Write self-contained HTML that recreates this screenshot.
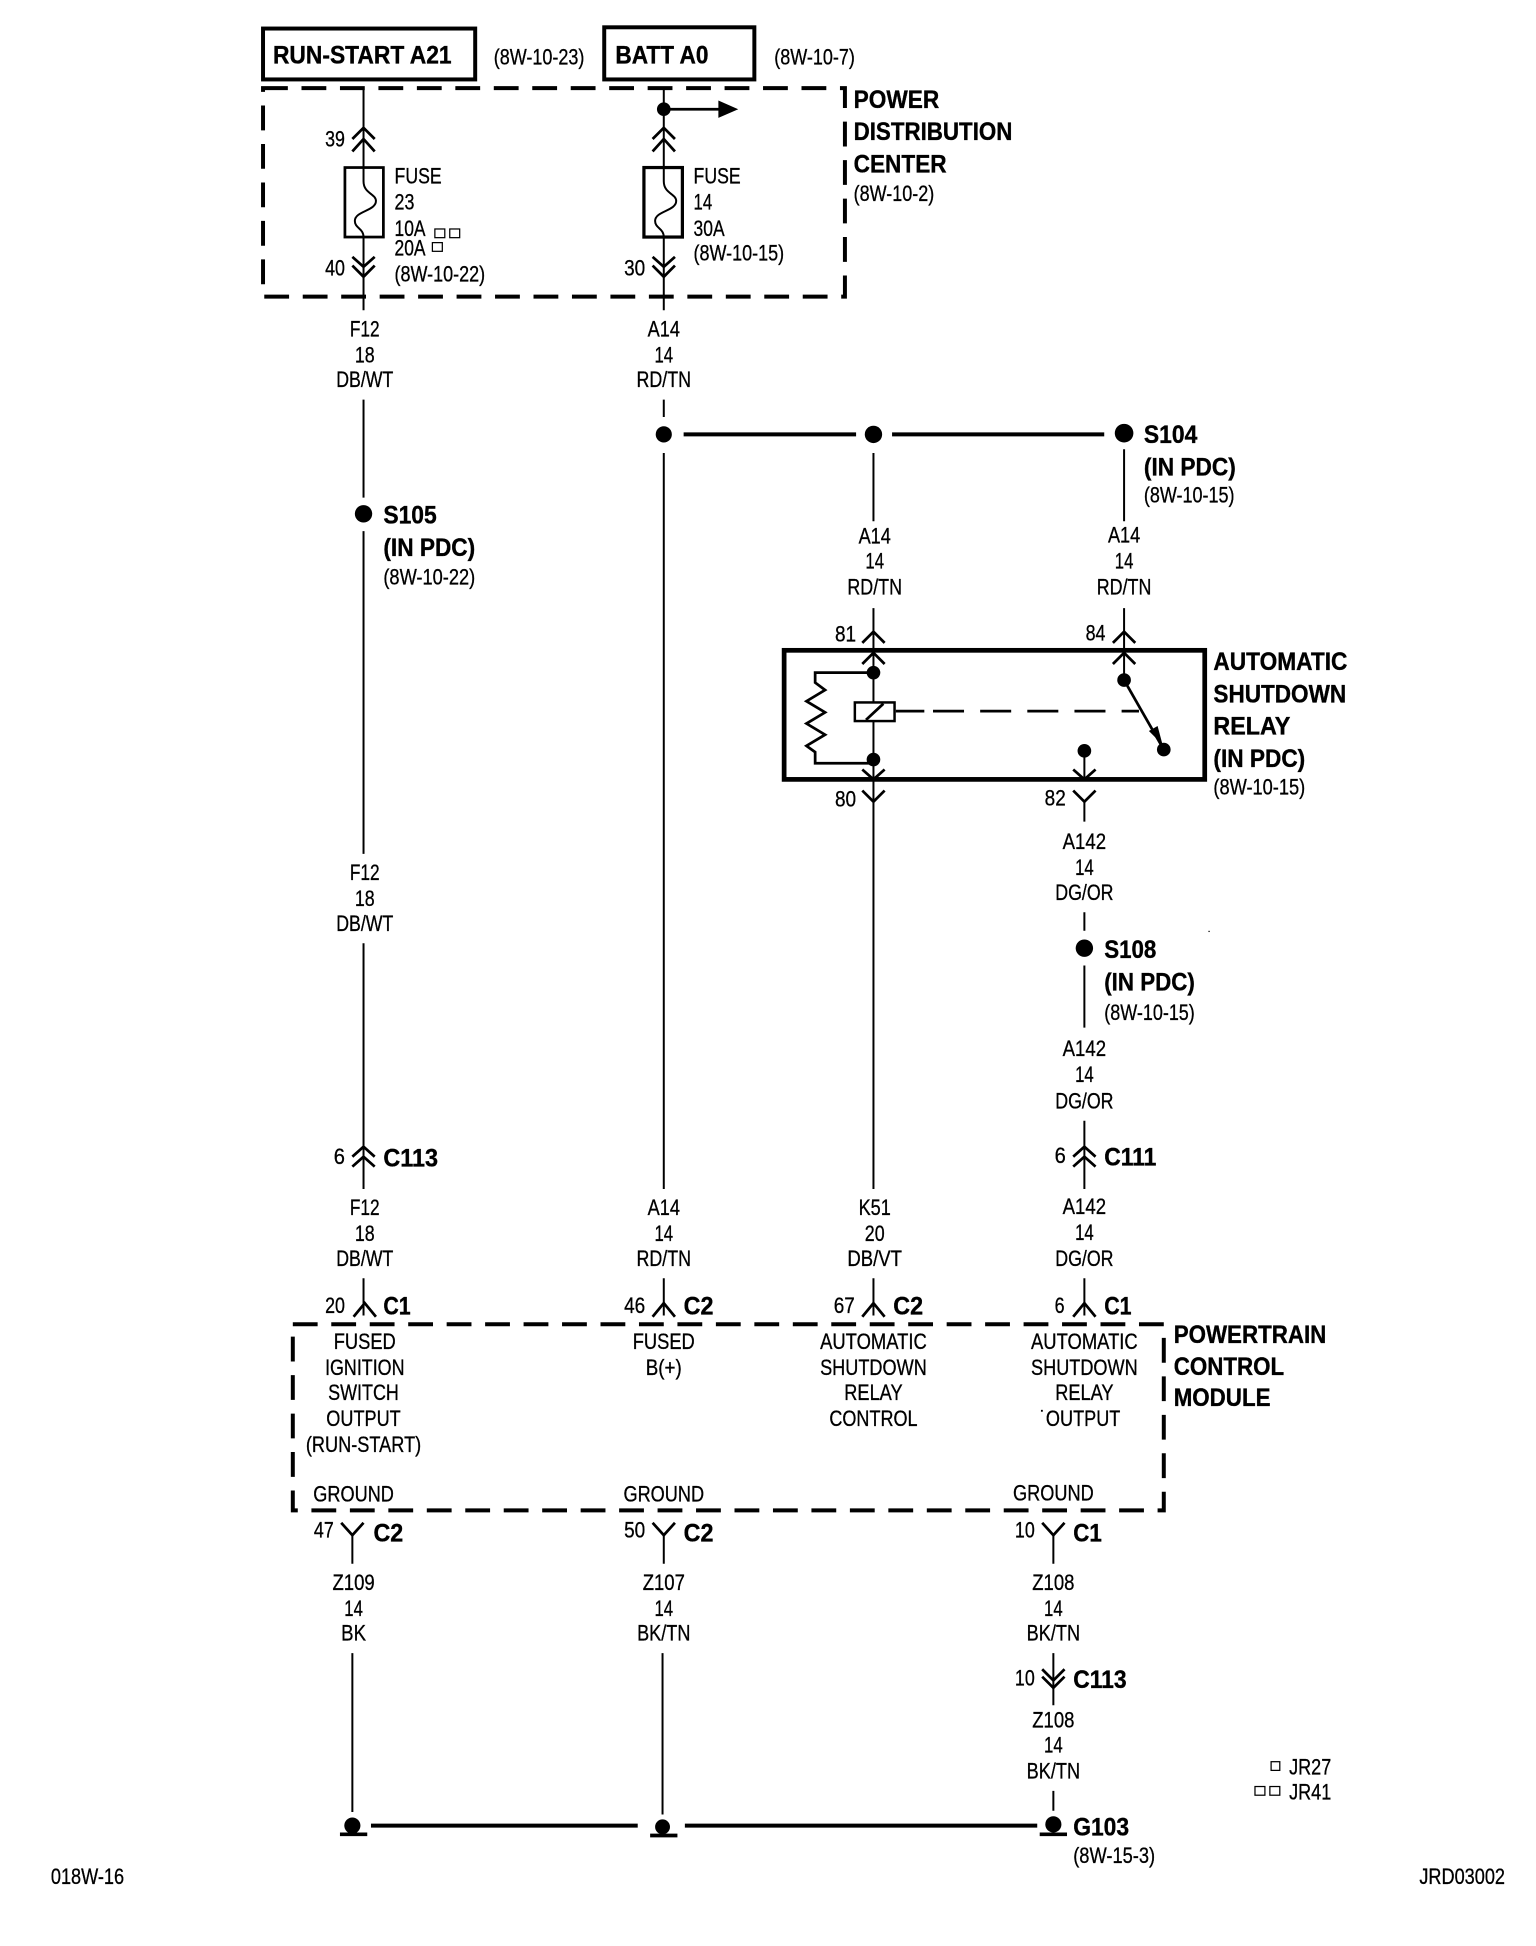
<!DOCTYPE html>
<html>
<head>
<meta charset="utf-8">
<title>Wiring diagram</title>
<style>
html,body{margin:0;padding:0;background:#fff;width:1536px;height:1946px;overflow:hidden}
svg{display:block}
text{font-family:"Liberation Sans",sans-serif;fill:#000}
.r{font-size:18px;stroke:#000;stroke-width:.25}
.b{font-size:20.5px;font-weight:bold;stroke:#000;stroke-width:.3}
.m{text-anchor:middle}
.w{stroke:#000;stroke-width:1.6;fill:none}
.c{stroke:#000;stroke-width:2.2;fill:none}
.t{stroke:#000;stroke-width:3.2;fill:none}
</style>
</head>
<body>
<svg xmlns="http://www.w3.org/2000/svg" width="1536" height="1946" viewBox="0 0 1238 1568" preserveAspectRatio="none">
<rect width="1238" height="1568" fill="#fff"/>

<!-- Top boxes -->
<rect x="212" y="23" width="171" height="41" class="t"/>
<rect x="487" y="22" width="121" height="42" class="t"/>
<text class="b" x="220" y="51" textLength="144" lengthAdjust="spacingAndGlyphs">RUN-START A21</text>
<text class="b" x="496" y="51" textLength="75" lengthAdjust="spacingAndGlyphs">BATT A0</text>
<text class="r" x="398" y="52" textLength="73" lengthAdjust="spacingAndGlyphs">(8W-10-23)</text>
<text class="r" x="624" y="52" textLength="65" lengthAdjust="spacingAndGlyphs">(8W-10-7)</text>

<!-- PDC -->
<rect x="212" y="71" width="469" height="168" class="t" stroke-dasharray="20 11"/>
<text class="b" x="688" y="87" textLength="69" lengthAdjust="spacingAndGlyphs">POWER</text>
<text class="b" x="688" y="113" textLength="128" lengthAdjust="spacingAndGlyphs">DISTRIBUTION</text>
<text class="b" x="688" y="139" textLength="75" lengthAdjust="spacingAndGlyphs">CENTER</text>
<text class="r" x="688" y="162" textLength="65" lengthAdjust="spacingAndGlyphs">(8W-10-2)</text>

<!-- Wire F12 -->
<path class="w" d="M293 71V135M293 191V250M293 322V401M293 428V688M293 760V958M293 1030V1060"/>
<path class="c" d="M284 112L293 103L302 112M284 122L293 112L302 122"/>
<path class="c" d="M284 207L293 215L302 207M284 214L293 223L302 214"/>
<rect x="278" y="135" width="31" height="56" fill="none" stroke="#000" stroke-width="2.2"/>
<path class="w" d="M293 135V146C293 156 303 156 303 162C303 170 286 170 286 178C286 184 293 184 293 191"/>
<text class="r" x="262" y="118" textLength="16" lengthAdjust="spacingAndGlyphs">39</text>
<text class="r" x="262" y="222" textLength="16" lengthAdjust="spacingAndGlyphs">40</text>
<text class="r" x="318" y="148" textLength="38" lengthAdjust="spacingAndGlyphs">FUSE</text>
<text class="r" x="318" y="169" textLength="16" lengthAdjust="spacingAndGlyphs">23</text>
<text class="r" x="318" y="190" textLength="25" lengthAdjust="spacingAndGlyphs">10A</text>
<text class="r" x="318" y="206" textLength="25" lengthAdjust="spacingAndGlyphs">20A</text>
<text class="r" x="318" y="227" textLength="73" lengthAdjust="spacingAndGlyphs">(8W-10-22)</text>
<g fill="none" stroke="#000" stroke-width="1">
<rect x="350.500" y="184.500" width="8" height="7"/>
<rect x="362.500" y="184.500" width="8" height="7"/>
<rect x="348.500" y="195.500" width="8" height="7"/>
</g>

<!-- Wire A14 -->
<path class="w" d="M535 71V135M535 191V250M535 322V336M535 365V958M535 1030V1060"/>
<circle cx="535" cy="88" r="5.500"/>
<path d="M535 88H582" stroke="#000" stroke-width="2.200"/>
<path d="M579 81L595 88L579 95Z"/>
<path class="c" d="M526 112L535 103L544 112M526 122L535 112L544 122"/>
<path class="c" d="M526 207L535 215L544 207M526 214L535 223L544 214"/>
<rect x="519" y="135" width="31" height="56" fill="none" stroke="#000" stroke-width="2.600"/>
<path class="w" d="M535 135V146C535 156 545 156 545 162C545 170 528 170 528 178C528 184 535 184 535 191"/>
<text class="r" x="503" y="222" textLength="17" lengthAdjust="spacingAndGlyphs">30</text>
<text class="r" x="559" y="148" textLength="38" lengthAdjust="spacingAndGlyphs">FUSE</text>
<text class="r" x="559" y="169" textLength="15" lengthAdjust="spacingAndGlyphs">14</text>
<text class="r" x="559" y="190" textLength="25" lengthAdjust="spacingAndGlyphs">30A</text>
<text class="r" x="559" y="210" textLength="73" lengthAdjust="spacingAndGlyphs">(8W-10-15)</text>

<!-- Wire labels -->
<text class="r m" x="294" y="271" textLength="24" lengthAdjust="spacingAndGlyphs">F12</text>
<text class="r m" x="294" y="292" textLength="16" lengthAdjust="spacingAndGlyphs">18</text>
<text class="r m" x="294" y="312" textLength="46" lengthAdjust="spacingAndGlyphs">DB/WT</text>
<text class="r m" x="535" y="271" textLength="26" lengthAdjust="spacingAndGlyphs">A14</text>
<text class="r m" x="535" y="292" textLength="15" lengthAdjust="spacingAndGlyphs">14</text>
<text class="r m" x="535" y="312" textLength="44" lengthAdjust="spacingAndGlyphs">RD/TN</text>
<text class="r m" x="294" y="709" textLength="24" lengthAdjust="spacingAndGlyphs">F12</text>
<text class="r m" x="294" y="730" textLength="16" lengthAdjust="spacingAndGlyphs">18</text>
<text class="r m" x="294" y="750" textLength="46" lengthAdjust="spacingAndGlyphs">DB/WT</text>

<!-- S104 bus -->
<circle cx="535" cy="350" r="6.500"/>
<circle cx="704" cy="350" r="7"/>
<circle cx="906" cy="349" r="7.500"/>
<path class="t" d="M551 350H690M719 350H890"/>
<text class="b" x="922" y="357" textLength="43" lengthAdjust="spacingAndGlyphs">S104</text>
<text class="b" x="922" y="383" textLength="74" lengthAdjust="spacingAndGlyphs">(IN PDC)</text>
<text class="r" x="922" y="405" textLength="73" lengthAdjust="spacingAndGlyphs">(8W-10-15)</text>

<!-- S105 -->
<circle cx="293" cy="414" r="7"/>
<text class="b" x="309" y="422" textLength="43" lengthAdjust="spacingAndGlyphs">S105</text>
<text class="b" x="309" y="448" textLength="74" lengthAdjust="spacingAndGlyphs">(IN PDC)</text>
<text class="r" x="309" y="471" textLength="74" lengthAdjust="spacingAndGlyphs">(8W-10-22)</text>

<!-- Relay feed wires -->
<path class="w" d="M704 365V420M704 490V566M704 581V646M704 646V662M906 362V420M906 490V548M704 646V958M704 1030V1060"/>
<text class="r m" x="705" y="438" textLength="26" lengthAdjust="spacingAndGlyphs">A14</text>
<text class="r m" x="705" y="458" textLength="15" lengthAdjust="spacingAndGlyphs">14</text>
<text class="r m" x="705" y="479" textLength="44" lengthAdjust="spacingAndGlyphs">RD/TN</text>
<text class="r m" x="906" y="437" textLength="26" lengthAdjust="spacingAndGlyphs">A14</text>
<text class="r m" x="906" y="458" textLength="15" lengthAdjust="spacingAndGlyphs">14</text>
<text class="r m" x="906" y="479" textLength="44" lengthAdjust="spacingAndGlyphs">RD/TN</text>

<!-- Relay -->
<rect x="632" y="524" width="339" height="104" fill="none" stroke="#000" stroke-width="3.800"/>
<path class="c" d="M695 518L704 509L713 518M695 535L704 526L713 535"/>
<path class="c" d="M897 518L906 509L915 518M897 535L906 526L915 535"/>
<path class="c" d="M695 620L704 628L713 620M695 637L704 646L713 637"/>
<path class="c" d="M865 620L874 628L883 620M865 637L874 646L883 637"/>
<text class="r" x="673" y="517" textLength="17" lengthAdjust="spacingAndGlyphs">81</text>
<text class="r" x="875" y="516" textLength="16" lengthAdjust="spacingAndGlyphs">84</text>
<text class="r" x="673" y="650" textLength="17" lengthAdjust="spacingAndGlyphs">80</text>
<text class="r" x="842" y="649" textLength="17" lengthAdjust="spacingAndGlyphs">82</text>
<circle cx="704" cy="542" r="5.500"/>
<circle cx="704" cy="612" r="5.500"/>
<circle cx="906" cy="548" r="5.500"/>
<circle cx="938" cy="604" r="5.500"/>
<circle cx="874" cy="605" r="5.500"/>
<path class="c" d="M704 542H657V550L665 556L650 565L665 574L650 583L665 592L650 601L657 606V615H704" stroke-width="1.800"/>
<rect x="689" y="566" width="32" height="15" fill="#fff" stroke="#000" stroke-width="2"/>
<path class="c" d="M698 580L712 567"/>
<path class="c" d="M722 573H745" stroke-width="2"/>
<path class="c" d="M752 573H918" stroke-width="2" stroke-dasharray="25 13"/>
<path class="c" d="M906 548L938 604" stroke-width="2.400"/>
<path d="M926 589L933 585L937 600Z"/>
<path class="w" d="M874 605V628"/>
<text class="b" x="978" y="540" textLength="108" lengthAdjust="spacingAndGlyphs">AUTOMATIC</text>
<text class="b" x="978" y="566" textLength="107" lengthAdjust="spacingAndGlyphs">SHUTDOWN</text>
<text class="b" x="978" y="592" textLength="62" lengthAdjust="spacingAndGlyphs">RELAY</text>
<text class="b" x="978" y="618" textLength="74" lengthAdjust="spacingAndGlyphs">(IN PDC)</text>
<text class="r" x="978" y="640" textLength="74" lengthAdjust="spacingAndGlyphs">(8W-10-15)</text>

<!-- A142 -->
<path class="w" d="M874 646V662M874 735V750M874 778V828M874 903V958M874 1030V1060"/>
<text class="r m" x="874" y="684" textLength="35" lengthAdjust="spacingAndGlyphs">A142</text>
<text class="r m" x="874" y="705" textLength="15" lengthAdjust="spacingAndGlyphs">14</text>
<text class="r m" x="874" y="725" textLength="47" lengthAdjust="spacingAndGlyphs">DG/OR</text>
<circle cx="874" cy="764" r="7"/>
<text class="b" x="890" y="772" textLength="42" lengthAdjust="spacingAndGlyphs">S108</text>
<text class="b" x="890" y="798" textLength="73" lengthAdjust="spacingAndGlyphs">(IN PDC)</text>
<text class="r" x="890" y="822" textLength="73" lengthAdjust="spacingAndGlyphs">(8W-10-15)</text>
<text class="r m" x="874" y="851" textLength="35" lengthAdjust="spacingAndGlyphs">A142</text>
<text class="r m" x="874" y="872" textLength="15" lengthAdjust="spacingAndGlyphs">14</text>
<text class="r m" x="874" y="893" textLength="47" lengthAdjust="spacingAndGlyphs">DG/OR</text>
<rect x="974" y="750" width="1" height="1"/>

<!-- C113 / C111 -->
<path class="c" d="M284 932L293 924L302 932M284 940L293 932L302 940"/>
<path class="c" d="M865 932L874 924L883 932M865 940L874 932L883 940"/>
<text class="r" x="269" y="938" textLength="9" lengthAdjust="spacingAndGlyphs">6</text>
<text class="r" x="850" y="937" textLength="9" lengthAdjust="spacingAndGlyphs">6</text>
<text class="b" x="309" y="940" textLength="44" lengthAdjust="spacingAndGlyphs">C113</text>
<text class="b" x="890" y="939" textLength="42" lengthAdjust="spacingAndGlyphs">C111</text>

<!-- Labels over PCM -->
<text class="r m" x="294" y="979" textLength="24" lengthAdjust="spacingAndGlyphs">F12</text>
<text class="r m" x="294" y="1000" textLength="16" lengthAdjust="spacingAndGlyphs">18</text>
<text class="r m" x="294" y="1020" textLength="46" lengthAdjust="spacingAndGlyphs">DB/WT</text>
<text class="r m" x="535" y="979" textLength="26" lengthAdjust="spacingAndGlyphs">A14</text>
<text class="r m" x="535" y="1000" textLength="15" lengthAdjust="spacingAndGlyphs">14</text>
<text class="r m" x="535" y="1020" textLength="44" lengthAdjust="spacingAndGlyphs">RD/TN</text>
<text class="r m" x="705" y="979" textLength="26" lengthAdjust="spacingAndGlyphs">K51</text>
<text class="r m" x="705" y="1000" textLength="16" lengthAdjust="spacingAndGlyphs">20</text>
<text class="r m" x="705" y="1020" textLength="44" lengthAdjust="spacingAndGlyphs">DB/VT</text>
<text class="r m" x="874" y="978" textLength="35" lengthAdjust="spacingAndGlyphs">A142</text>
<text class="r m" x="874" y="999" textLength="15" lengthAdjust="spacingAndGlyphs">14</text>
<text class="r m" x="874" y="1020" textLength="47" lengthAdjust="spacingAndGlyphs">DG/OR</text>

<!-- PCM connectors -->
<path class="c" d="M285 1061L294 1050L303 1061M526 1061L535 1050L544 1061M695 1061L704 1050L713 1061M865 1061L874 1050L883 1061"/>
<text class="r" x="262" y="1058" textLength="16" lengthAdjust="spacingAndGlyphs">20</text>
<text class="r" x="503" y="1058" textLength="17" lengthAdjust="spacingAndGlyphs">46</text>
<text class="r" x="672" y="1058" textLength="17" lengthAdjust="spacingAndGlyphs">67</text>
<text class="r" x="850" y="1058" textLength="8" lengthAdjust="spacingAndGlyphs">6</text>
<text class="b" x="309" y="1059" textLength="22" lengthAdjust="spacingAndGlyphs">C1</text>
<text class="b" x="551" y="1059" textLength="24" lengthAdjust="spacingAndGlyphs">C2</text>
<text class="b" x="720" y="1059" textLength="24" lengthAdjust="spacingAndGlyphs">C2</text>
<text class="b" x="890" y="1059" textLength="22" lengthAdjust="spacingAndGlyphs">C1</text>

<!-- PCM -->
<rect x="236" y="1067" width="702" height="150" class="t" stroke-dasharray="20 11"/>
<text class="b" x="946" y="1082" textLength="123" lengthAdjust="spacingAndGlyphs">POWERTRAIN</text>
<text class="b" x="946" y="1108" textLength="89" lengthAdjust="spacingAndGlyphs">CONTROL</text>
<text class="b" x="946" y="1133" textLength="78" lengthAdjust="spacingAndGlyphs">MODULE</text>

<text class="r m" x="294" y="1087" textLength="50" lengthAdjust="spacingAndGlyphs">FUSED</text>
<text class="r m" x="294" y="1108" textLength="64" lengthAdjust="spacingAndGlyphs">IGNITION</text>
<text class="r m" x="293" y="1128" textLength="57" lengthAdjust="spacingAndGlyphs">SWITCH</text>
<text class="r m" x="293" y="1149" textLength="60" lengthAdjust="spacingAndGlyphs">OUTPUT</text>
<text class="r m" x="293" y="1170" textLength="93" lengthAdjust="spacingAndGlyphs">(RUN-START)</text>
<text class="r m" x="535" y="1087" textLength="50" lengthAdjust="spacingAndGlyphs">FUSED</text>
<text class="r m" x="535" y="1108" textLength="29" lengthAdjust="spacingAndGlyphs">B(+)</text>
<text class="r m" x="704" y="1087" textLength="86" lengthAdjust="spacingAndGlyphs">AUTOMATIC</text>
<text class="r m" x="704" y="1108" textLength="86" lengthAdjust="spacingAndGlyphs">SHUTDOWN</text>
<text class="r m" x="704" y="1128" textLength="47" lengthAdjust="spacingAndGlyphs">RELAY</text>
<text class="r m" x="704" y="1149" textLength="71" lengthAdjust="spacingAndGlyphs">CONTROL</text>
<text class="r m" x="874" y="1087" textLength="86" lengthAdjust="spacingAndGlyphs">AUTOMATIC</text>
<text class="r m" x="874" y="1108" textLength="86" lengthAdjust="spacingAndGlyphs">SHUTDOWN</text>
<text class="r m" x="874" y="1128" textLength="47" lengthAdjust="spacingAndGlyphs">RELAY</text>
<text class="r m" x="873" y="1149" textLength="60" lengthAdjust="spacingAndGlyphs">OUTPUT</text>
<rect x="839" y="1136" width="1.500" height="1.500"/>
<text class="r m" x="285" y="1210" textLength="65" lengthAdjust="spacingAndGlyphs">GROUND</text>
<text class="r m" x="535" y="1210" textLength="65" lengthAdjust="spacingAndGlyphs">GROUND</text>
<text class="r m" x="849" y="1209" textLength="65" lengthAdjust="spacingAndGlyphs">GROUND</text>

<!-- Ground connectors -->
<path class="c" d="M275 1227L284 1237L293 1227M526 1227L535 1237L544 1227M840 1227L849 1237L858 1227"/>
<path class="w" d="M284 1237V1260M284 1332V1460M535 1237V1260M534 1332V1462M849 1237V1260M849 1332V1374M849 1443V1459"/>
<text class="r" x="253" y="1239" textLength="16" lengthAdjust="spacingAndGlyphs">47</text>
<text class="r" x="503" y="1239" textLength="17" lengthAdjust="spacingAndGlyphs">50</text>
<text class="r" x="818" y="1239" textLength="16" lengthAdjust="spacingAndGlyphs">10</text>
<text class="b" x="301" y="1242" textLength="24" lengthAdjust="spacingAndGlyphs">C2</text>
<text class="b" x="551" y="1242" textLength="24" lengthAdjust="spacingAndGlyphs">C2</text>
<text class="b" x="865" y="1242" textLength="23" lengthAdjust="spacingAndGlyphs">C1</text>

<text class="r m" x="285" y="1281" textLength="34" lengthAdjust="spacingAndGlyphs">Z109</text>
<text class="r m" x="285" y="1302" textLength="15" lengthAdjust="spacingAndGlyphs">14</text>
<text class="r m" x="285" y="1322" textLength="20" lengthAdjust="spacingAndGlyphs">BK</text>
<text class="r m" x="535" y="1281" textLength="34" lengthAdjust="spacingAndGlyphs">Z107</text>
<text class="r m" x="535" y="1302" textLength="15" lengthAdjust="spacingAndGlyphs">14</text>
<text class="r m" x="535" y="1322" textLength="43" lengthAdjust="spacingAndGlyphs">BK/TN</text>
<text class="r m" x="849" y="1281" textLength="34" lengthAdjust="spacingAndGlyphs">Z108</text>
<text class="r m" x="849" y="1302" textLength="15" lengthAdjust="spacingAndGlyphs">14</text>
<text class="r m" x="849" y="1322" textLength="43" lengthAdjust="spacingAndGlyphs">BK/TN</text>

<!-- C113 lower -->
<path class="c" d="M840 1345L849 1354L858 1345M840 1351L849 1360L858 1351"/>
<text class="r" x="818" y="1358" textLength="16" lengthAdjust="spacingAndGlyphs">10</text>
<text class="b" x="865" y="1360" textLength="43" lengthAdjust="spacingAndGlyphs">C113</text>
<text class="r m" x="849" y="1392" textLength="34" lengthAdjust="spacingAndGlyphs">Z108</text>
<text class="r m" x="849" y="1412" textLength="15" lengthAdjust="spacingAndGlyphs">14</text>
<text class="r m" x="849" y="1433" textLength="43" lengthAdjust="spacingAndGlyphs">BK/TN</text>

<!-- Grounds -->
<circle cx="284" cy="1471" r="6.500"/>
<circle cx="534" cy="1472" r="6"/>
<circle cx="849" cy="1470" r="6.500"/>
<path d="M274 1478H296M524 1479H546M838 1478H860" stroke="#000" stroke-width="3"/>
<path class="t" d="M299 1471H514M552 1471H836"/>
<text class="b" x="865" y="1479" textLength="45" lengthAdjust="spacingAndGlyphs">G103</text>
<text class="r" x="865" y="1501" textLength="66" lengthAdjust="spacingAndGlyphs">(8W-15-3)</text>

<!-- Legend -->
<g fill="none" stroke="#000" stroke-width="1">
<rect x="1024.500" y="1419.500" width="7" height="7"/>
<rect x="1011.500" y="1439.500" width="8" height="7"/>
<rect x="1023.500" y="1439.500" width="8" height="7"/>
</g>
<text class="r" x="1039" y="1430" textLength="34" lengthAdjust="spacingAndGlyphs">JR27</text>
<text class="r" x="1039" y="1450" textLength="34" lengthAdjust="spacingAndGlyphs">JR41</text>
<text class="r" x="41" y="1518" textLength="59" lengthAdjust="spacingAndGlyphs">018W-16</text>
<text class="r" x="1144" y="1518" textLength="69" lengthAdjust="spacingAndGlyphs">JRD03002</text>
</svg>
</body>
</html>
